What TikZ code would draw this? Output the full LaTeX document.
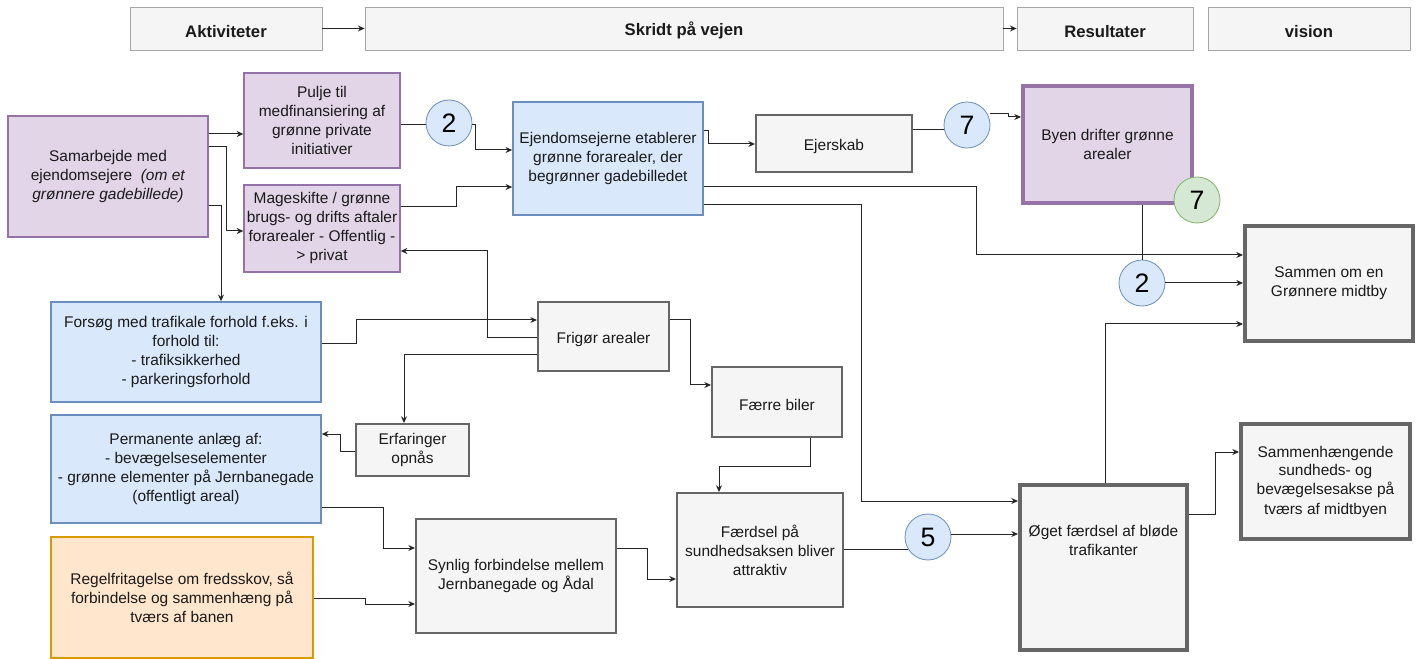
\documentclass[tikz,border=0pt]{standalone}
\usepackage{fontspec}
\setmainfont{Liberation Sans}
\usetikzlibrary{arrows.meta}
\definecolor{purf}{HTML}{E1D5E7}\definecolor{purd}{HTML}{9673A6}
\definecolor{bluf}{HTML}{DAE8FC}\definecolor{blud}{HTML}{6C8EBF}
\definecolor{grf}{HTML}{F5F5F5}\definecolor{grd}{HTML}{666666}
\definecolor{orf}{HTML}{FFE6CC}\definecolor{ord}{HTML}{D79B00}
\definecolor{gnf}{HTML}{D5E8D4}\definecolor{gnd}{HTML}{82B366}
\definecolor{txt}{HTML}{1A1A1A}
\begin{document}
\begin{tikzpicture}[x=0.75pt,y=-0.75pt,
  font=\fontsize{11.6}{14.25}\selectfont,
  R/.style n args={4}{at={({(#1+#3)/2},{(#2+#4)/2})},
     minimum width={(#3-#1)*0.75pt}, minimum height={(#4-#2)*0.75pt}},
  box/.style={rectangle, inner sep=0pt, align=center, text=txt,
     execute at begin node={\rule{0pt}{13pt}}},
  pur/.style={box, fill=purf, draw=purd, line width=1pt},
  purk/.style={box, fill=purf, draw=purd, line width=3pt},
  blu/.style={box, fill=bluf, draw=blud, line width=1.2pt},
  ora/.style={box, fill=orf, draw=ord, line width=1.2pt},
  gry/.style={box, fill=grf, draw=grd, line width=1.5pt},
  gryk/.style={box, fill=grf, draw=grd, line width=3pt},
  hdr/.style={box, fill=grf, draw=black!35, line width=0.6pt, font=\fontsize{12.5}{14}\selectfont\bfseries},
  num/.style={circle, minimum size=34.5pt, inner sep=0pt, line width=0.6pt, text=black,
    font=\fontsize{20}{21}\selectfont, fill=bluf, draw=blud},
  con/.style={line width=0.75pt, draw=black!85, -{Stealth[length=5pt,width=4.5pt]}},
  lin/.style={line width=0.75pt, draw=black!85}]
\useasboundingbox (0,0) rectangle (1418,659);

% header
\node[hdr, R={130}{7}{322}{50}] (akt) {Aktiviteter};
\node[hdr, R={365}{7}{1003}{50}] (skr) {Skridt på vejen};
\node[hdr, R={1017}{7}{1193}{50}] (res) {Resultater};
\node[hdr, R={1208}{7}{1410}{50}] (vis) {vision};
\draw[con] (akt.east) -- (skr.west);
\draw[con] (skr.east) -- (res.west);

% boxes
\node[pur, R={8}{116}{208}{237}] (sam) {Samarbejde med\\ejendomsejere\ \ \textit{(om et}\\\textit{grønnere gadebillede)}};
\node[pur, R={244}{73}{400}{168}] (pul) {Pulje til\\medfinansiering af\\grønne private\\initiativer};
\node[pur, R={244}{185}{400}{272}] (mag) {Mageskifte / grønne\\brugs- og drifts aftaler\\forarealer - Offentlig -\\> privat};
\node[num] (c2a) at (449,123) {2};
\node[blu, R={513}{102}{703}{215}] (ejd) {Ejendomsejerne etablerer\\grønne forarealer, der\\begrønner gadebilledet};
\node[gry, R={756}{115}{912}{172}] (ejs) {Ejerskab};
\node[num] (c7a) at (967,125) {7};
\node[purk, R={1023}{86}{1192}{203}] (byen) {Byen drifter grønne\\arealer};
\node[num, fill=gnf, draw=gnd] (c7b) at (1197,200) {7};
\node[num] (c2b) at (1142,283) {2};
\node[gryk, R={1245}{226}{1413}{341}] (sam2) {Sammen om en\\Grønnere midtby};
\node[blu, R={51}{302}{321}{402}] (fors) {Forsøg med trafikale forhold f.eks. i\\forhold til:\\- trafiksikkerhed\\- parkeringsforhold};
\node[gry, R={538}{302}{669}{371}] (fri) {Frigør arealer};
\node[gry, R={712}{367}{842}{437}] (faer) {Færre biler};
\node[gry, R={356}{424}{469}{476}] (erf) {Erfaringer\\opnås};
\node[blu, R={51}{415}{321}{523}] (perm) {Permanente anlæg af:\\- bevægelseselementer\\- grønne elementer på Jernbanegade\\(offentligt areal)};
\node[ora, R={51}{537}{313}{658}] (reg) {Regelfritagelse om fredsskov, så\\forbindelse og sammenhæng på\\tværs af banen};
\node[gry, R={416}{519}{616}{633}] (syn) {Synlig forbindelse mellem\\Jernbanegade og Ådal};
\node[gry, R={677}{493}{843}{607}] (fsel) {Færdsel på\\sundhedsaksen bliver\\attraktiv};
\node[num] (c5) at (928,537) {5};
\node[gryk, R={1020}{485}{1187}{650}] (oget) {Øget færdsel af bløde\\trafikanter\\[26.5pt]\mbox{}};
\node[gryk, R={1241}{424}{1410}{539}] (smh) {Sammenhængende\\sundheds- og\\bevægelsesakse på\\tværs af midtbyen};

% connectors
\draw[con] (sam.east |- 0,134) -- (pul.west |- 0,134);
\draw[con] (sam.east |- 0,147) -- (226,147) -- (226,231) -- (mag.west |- 0,231);
\draw[con] (sam.east |- 0,206) -- (221,206) -- (fors.north -| 221,0);
\draw[lin] (pul.east |- 0,125) -- (c2a.west |- 0,125);
\draw[con] (c2a.east |- 0,125) -- (475,125) -- (475,150) -- (ejd.west |- 0,150);
\draw[con] (mag.east |- 0,207) -- (456,207) -- (456,187) -- (ejd.west |- 0,187);
\draw[con] (ejd.east |- 0,131) -- (708,131) -- (708,144) -- (ejs.west |- 0,144);
\draw[lin] (ejs.east |- 0,130) -- (c7a.west |- 0,130);
\draw[con] (c7a.east |- 0,114) -- (1008,114) -- (1008,117) -- (byen.west |- 0,117);
\draw[con] (ejd.east |- 0,187) -- (976,187) -- (976,255) -- (sam2.west |- 0,255);
\draw[lin] (byen.south -| 1142,0) -- (c2b.north);
\draw[con] (c2b.east) -- (sam2.west |- c2b.east);
\draw[con] (ejd.east |- 0,205) -- (861,205) -- (861,501) -- (oget.west |- 0,501);
\draw[con] (fors.east |- 0,344) -- (356,344) -- (356,320) -- (fri.west |- 0,320);
\draw[con] (fri.west |- 0,338) -- (487,338) -- (487,251) -- (mag.east |- 0,251);
\draw[con] (fri.west |- 0,355) -- (404,355) -- (erf.north -| 404,0);
\draw[con] (fri.east |- 0,320) -- (690,320) -- (690,385) -- (faer.west |- 0,385);
\draw[con] (erf.west |- 0,451) -- (340,451) -- (340,434) -- (perm.east |- 0,434);
\draw[con] (perm.east |- 0,507) -- (383,507) -- (383,548) -- (syn.west |- 0,548);
\draw[con] (reg.east |- 0,598) -- (365,598) -- (365,604) -- (syn.west |- 0,604);
\draw[con] (faer.south -| 810,0) -- (810,466) -- (719,466) -- (fsel.north -| 719,0);
\draw[con] (syn.east |- 0,548) -- (647,548) -- (647,579) -- (fsel.west |- 0,579);
\draw[lin] (fsel.east |- c5.213) -- (c5.213);
\draw[con] (c5.east |- 0,534) -- (oget.west |- 0,534);
\draw[con] (oget.north -| 1105,0) -- (1105,324) -- (sam2.west |- 0,324);
\draw[con] (oget.east |- 0,514) -- (1215,514) -- (1215,452) -- (smh.west |- 0,452);
\end{tikzpicture}
\end{document}
